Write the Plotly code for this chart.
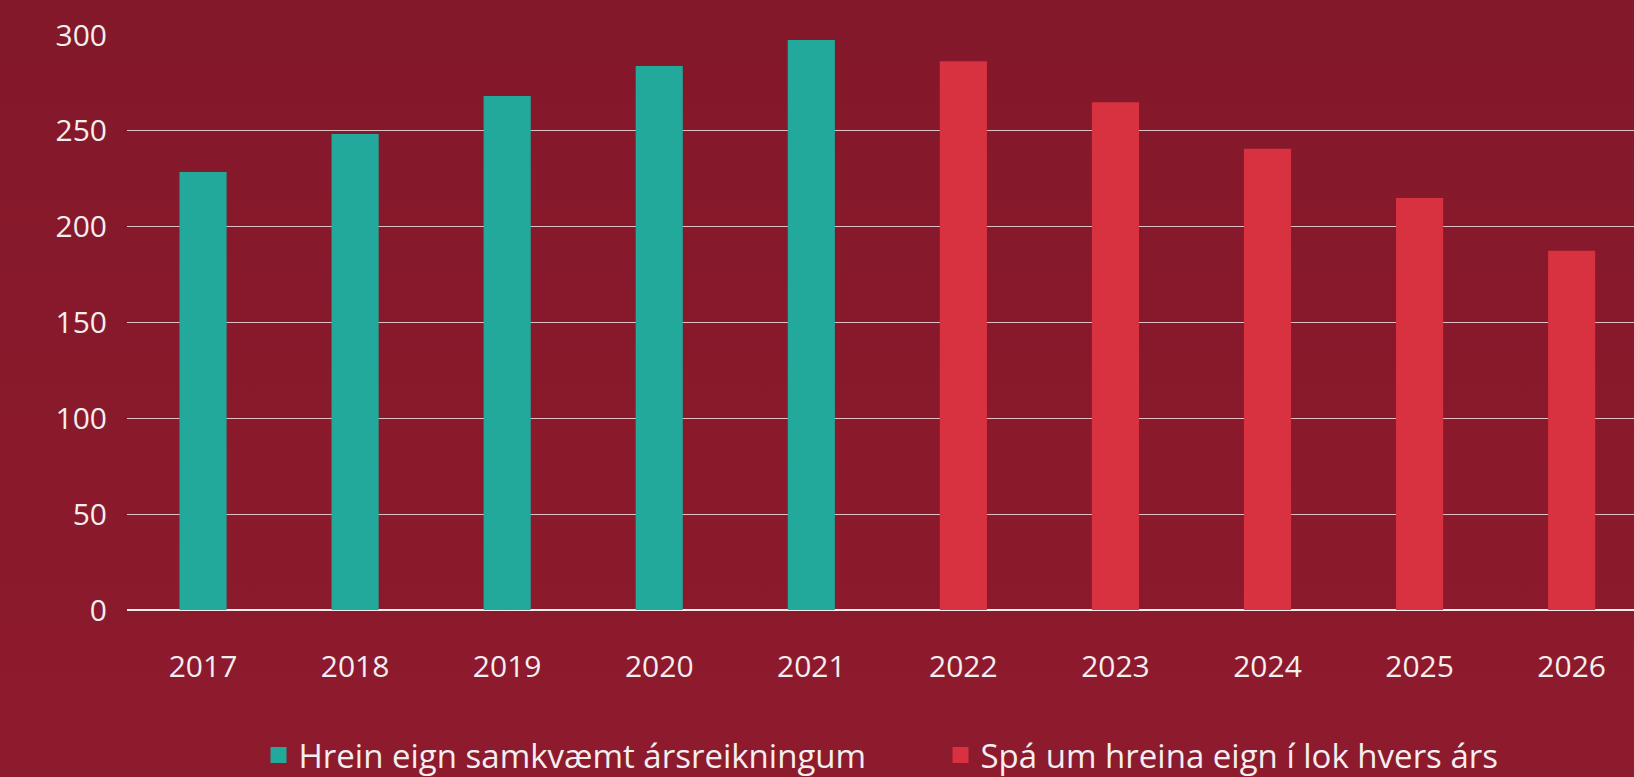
import base64
import plotly.graph_objects as go

years_actual = ["2017", "2018", "2019", "2020", "2021"]
values_actual = [228.5, 248.3, 268.2, 283.8, 297.4]
years_forecast = ["2022", "2023", "2024", "2025", "2026"]
values_forecast = [286.3, 264.9, 240.6, 214.9, 187.4]
all_years = years_actual + years_forecast
name_actual = "Hrein eign samkvæmt ársreikningum"
name_forecast = "Spá um hreina eign í lok hvers árs"
y_ticks = [0, 50, 100, 150, 200, 250, 300]

COL_ACTUAL = "#22a99b"
COL_FORECAST = "#d8313f"

W, H = 1634, 777
ML, MR, MT, MB = 127, 0, 35, 167
PW, PH = W - ML - MR, H - MT - MB

TEXT = "#f3eef0"
FONT = "Open Sans"

svg = ("<svg xmlns='http://www.w3.org/2000/svg' width='10' height='100' preserveAspectRatio='none'>"
       "<defs><linearGradient id='g' x1='0' y1='0' x2='0' y2='1'>"
       "<stop offset='0' stop-color='#83182a'/><stop offset='1' stop-color='#8e1a2d'/>"
       "</linearGradient></defs><rect width='10' height='100' fill='url(#g)'/></svg>")
bg_src = "data:image/svg+xml;base64," + base64.b64encode(svg.encode()).decode()

fig = go.Figure()
fig.add_trace(go.Bar(x=years_actual, y=values_actual, name=name_actual, showlegend=False,
                     marker=dict(color=COL_ACTUAL, line=dict(width=0)), width=0.31))
fig.add_trace(go.Bar(x=years_forecast, y=values_forecast, name=name_forecast, showlegend=False,
                     marker=dict(color=COL_FORECAST, line=dict(width=0)), width=0.31))
# legend entries (larger square swatches)
for nm, col in [(name_actual, COL_ACTUAL), (name_forecast, COL_FORECAST)]:
    fig.add_trace(go.Scatter(x=[None], y=[None], mode="markers", name=nm, showlegend=True,
                             marker=dict(symbol="square", size=16, color=col, line=dict(width=0)),
                             hoverinfo="skip"))

fig.update_layout(
    width=W, height=H,
    margin=dict(l=ML, r=MR, t=MT, b=MB, pad=0),
    barmode="overlay",
    paper_bgcolor="#881a2c",
    plot_bgcolor="rgba(0,0,0,0)",
    font=dict(family=FONT, size=30, color=TEXT),
    showlegend=True,
    legend=dict(orientation="h", x=0.5 + 60 / PW, xanchor="center",
                yref="container", y=(H - 755) / H, yanchor="middle",
                font=dict(family=FONT, size=33, color=TEXT),
                bgcolor="rgba(0,0,0,0)", entrywidth=637, entrywidthmode="pixels",
                itemclick=False, itemdoubleclick=False),
    images=[dict(source=bg_src, xref="paper", yref="paper",
                 x=-ML / PW, y=1 + MT / PH, sizex=W / PW, sizey=H / PH,
                 xanchor="left", yanchor="top", sizing="stretch", layer="below")],
    xaxis=dict(type="category", categoryorder="array", categoryarray=all_years,
               range=[-0.5, 9.41], showgrid=False, zeroline=False, showline=False,
               ticks="", ticklabelstandoff=36, tickfont=dict(size=30, color=TEXT)),
    yaxis=dict(range=[0, 300], tickvals=y_ticks, showgrid=True,
               gridcolor="rgba(255,255,255,0.72)", gridwidth=1,
               zeroline=True, zerolinecolor="#f3eef0", zerolinewidth=2,
               showline=False, ticks="", ticklabelstandoff=19,
               tickfont=dict(size=30, color=TEXT)),
)

fig.write_html("out.html", config={"displayModeBar": False},
               post_script="document.body.style.margin='0';")
